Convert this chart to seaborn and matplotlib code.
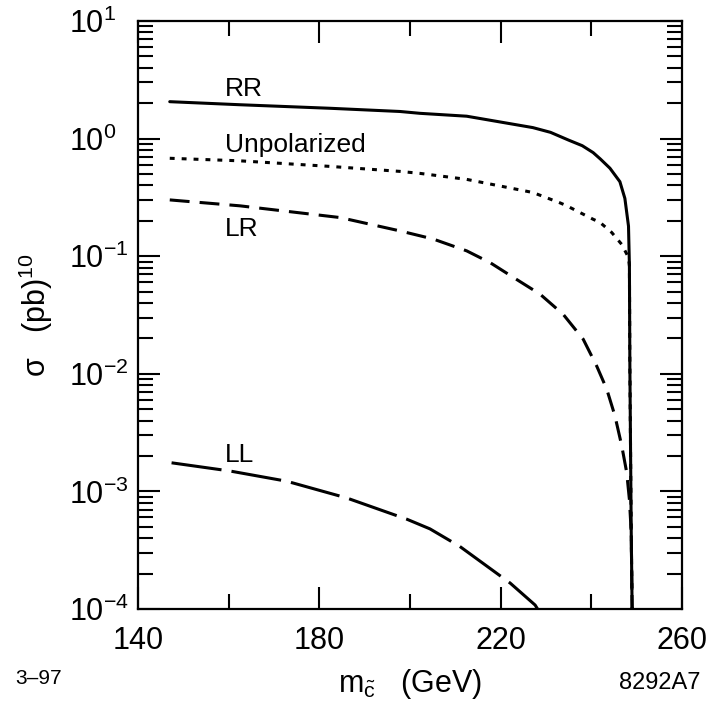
import numpy as np
import pandas as pd
import seaborn as sns
import matplotlib.pyplot as plt
from matplotlib.ticker import LogLocator, FixedLocator, NullFormatter

# cross sections vs. squark mass
m_rr = [147.0, 162.5, 182.4, 197.8, 202.2, 212.5, 227.1, 231.0, 235.0, 238.0, 240.4,
        242.0, 244.1, 246.3, 247.4, 248.2, 248.4, 248.5, 248.8, 249.0]
s_rr = [2.06, 1.94, 1.81, 1.70, 1.64, 1.55, 1.24, 1.13, 0.97, 0.87, 0.76,
        0.67, 0.56, 0.43, 0.31, 0.18, 0.083, 0.0117, 4.5e-4, 1e-4]

m_unp = [147.0, 162.5, 182.4, 197.8, 202.2, 212.5, 227.1, 233.1, 234.6, 240.4, 241.9,
         244.5, 246.7, 248.2, 248.4, 248.5, 248.8, 249.0]
s_unp = [0.68, 0.647, 0.58, 0.526, 0.506, 0.45, 0.348, 0.284, 0.268, 0.206, 0.194,
         0.159, 0.126, 0.0975, 0.083, 0.0117, 4.5e-4, 1e-4]

m_lr = [147.0, 162.5, 184.6, 197.8, 205.1, 212.5, 217.7, 222.8, 228.7, 233.8, 238.2,
        241.2, 243.4, 245.2, 246.7, 247.8, 248.4, 248.8, 249.0]
s_lr = [0.301, 0.268, 0.213, 0.164, 0.14, 0.111, 0.088, 0.066, 0.0475, 0.032, 0.0197,
        0.0116, 0.0074, 0.0044, 0.00245, 0.00145, 8.5e-4, 4.5e-4, 1e-4]

m_ll = [147.4, 160.3, 172.8, 186.0, 199.3, 204.4, 211.0, 222.1, 227.6, 228.5]
s_ll = [0.00175, 0.00149, 0.00122, 0.00088, 5.8e-4, 4.8e-4, 3.4e-4, 1.66e-4, 1.08e-4, 9.5e-5]

labels = ["RR", "Unpolarized", "LR", "LL"]
label_pos = [(159.2, 2.30), (159.2, 0.773), (159.2, 0.148), (159.2, 0.00178)]

x_major = [140, 180, 220, 260]
x_minor = [160, 200, 240]

#------------- style
sns.set_style("white")
plt.rcParams['font.family'] = ['Liberation Sans', 'DejaVu Sans']
plt.rcParams['mathtext.default'] = 'regular'
plt.rcParams['text.color'] = 'black'
plt.rcParams['axes.labelcolor'] = 'black'

fig = plt.figure(figsize=(7.06, 7.02), dpi=100)
ax = fig.add_axes([0.1955, 0.1325, 0.7705, 0.8376])

lw = 2.2
sns.lineplot(x=m_rr, y=s_rr, ax=ax, color='black', lw=lw, estimator=None, sort=False)
sns.lineplot(x=m_unp, y=s_unp, ax=ax, color='black', lw=lw, estimator=None, sort=False,
             linestyle=(0, (1.6, 2.3)))
sns.lineplot(x=m_lr, y=s_lr, ax=ax, color='black', lw=lw, estimator=None, sort=False,
             linestyle=(0, (6.5, 3.3)))
sns.lineplot(x=m_ll, y=s_ll, ax=ax, color='black', lw=lw, estimator=None, sort=False,
             linestyle=(0, (16.5, 3.3)))

for txt, (xx, yy) in zip(labels, label_pos):
    ax.text(xx, yy, txt, fontsize=19, ha='left', va='baseline', color='black')

ax.set_yscale('log')
ax.set_xlim(140, 260)
ax.set_ylim(1e-4, 1e1)

ax.xaxis.set_major_locator(FixedLocator(x_major))
ax.xaxis.set_minor_locator(FixedLocator(x_minor))
ax.yaxis.set_major_locator(LogLocator(base=10, numticks=10))
ax.yaxis.set_minor_locator(LogLocator(base=10, subs=np.arange(2, 10), numticks=20))
ax.yaxis.set_minor_formatter(NullFormatter())

ax.tick_params(which='both', direction='in', top=True, right=True, left=True, bottom=True,
               width=1.5, colors='black', labelsize=22)
ax.tick_params(which='major', length=16)
ax.tick_params(which='minor', length=11)
ax.tick_params(axis='y', which='major', pad=50)  # labels are left aligned in the original
ax.tick_params(axis='x', which='major', pad=12)
plt.setp(ax.get_yticklabels(), ha='left')

for sp in ax.spines.values():
    sp.set_linewidth(1.6)
    sp.set_color('black')

ax.set_xlabel(r"m$_{\tilde{c}}$   (GeV)", fontsize=22, labelpad=8)
ax.set_ylabel(r"σ   (pb)$^{10}$", fontsize=22)
ax.yaxis.set_label_coords(-0.153, 0.5)

fig.text(0.021, 0.02, "3–97", fontsize=15, ha='left', va='bottom')
fig.text(0.992, 0.012, "8292A7", fontsize=17, ha='right', va='bottom')

fig.savefig("out.png", dpi=100)
